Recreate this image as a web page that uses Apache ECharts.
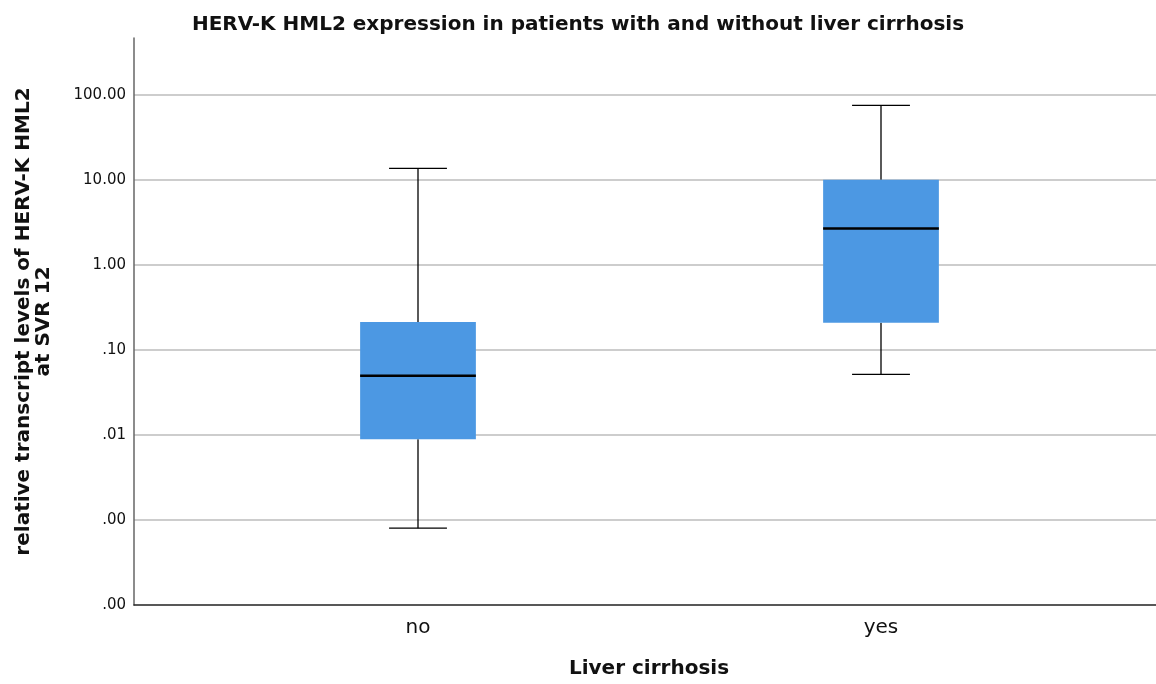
<!DOCTYPE html>
<html>
<head>
<meta charset="utf-8">
<script src="https://cdn.jsdelivr.net/npm/echarts@6/dist/echarts.min.js"></script>
<style>html,body{margin:0;padding:0;background:#fff;}#c{width:1156px;height:684px;}</style>
</head>
<body>
<div id="c"></div>
<script>
// Categories and box statistics (relative transcript levels, original scale)
const categories = ['no', 'yes'];
const whiskerLow  = [0.0008, 0.0514];
const q1          = [0.0089, 0.2086];
const median      = [0.0497, 2.68];
const q3          = [0.2127, 10.0];
const whiskerHigh = [13.6, 75];
// Y axis extent (log10 exponents)
const yMinExp = -4;
const yMaxExp = 2.667;

const L = Math.log10;
const boxData = categories.map((c, i) => [i, L(whiskerLow[i]), L(q1[i]), L(median[i]), L(q3[i]), L(whiskerHigh[i])]);

function fmtTick(v) {
  const val = Math.pow(10, v);
  let s = val.toFixed(2);
  if (s.startsWith('0.')) s = s.slice(1);
  return s;
}

const font = 'DejaVu Sans';
const chart = echarts.init(document.getElementById('c'), null, {renderer: 'canvas'});
chart.setOption({
  animation: false,
  backgroundColor: '#fff',
  title: {
    text: 'HERV-K HML2 expression in patients with and without liver cirrhosis',
    left: 'center', top: 10,
    textStyle: {fontFamily: font, fontWeight: 'bold', fontSize: 20, color: '#111'}
  },
  grid: {left: 134, right: 0, top: 38, bottom: 76, containLabel: false},
  xAxis: {
    type: 'value',
    min: (134 - 418) / 463,
    max: (1156 - 418) / 463,
    name: 'Liver cirrhosis',
    nameLocation: 'middle',
    nameGap: 54,
    nameTextStyle: {fontFamily: font, fontWeight: 'bold', fontSize: 20, color: '#111', padding: [0, 0, 0, 8]},
    axisLine: {show: true, onZero: false, lineStyle: {color: '#222', width: 1.5}},
    axisTick: {show: false},
    splitLine: {show: false},
    axisLabel: {
      customValues: [0, 1],
      formatter: v => categories[Math.round(v)] || '',
      fontFamily: font, fontSize: 20, color: '#111', margin: 13
    }
  },
  yAxis: {
    type: 'value',
    min: yMinExp,
    max: yMaxExp,
    interval: 1,
    name: 'relative transcript levels of HERV-K HML2\nat SVR 12',
    nameLocation: 'middle',
    nameGap: 80,
    nameTextStyle: {fontFamily: font, fontWeight: 'bold', fontSize: 20, color: '#111', lineHeight: 20},
    axisLine: {show: true, onZero: false, lineStyle: {color: '#666', width: 1.5}},
    axisTick: {show: false},
    axisLabel: {
      formatter: fmtTick,
      showMaxLabel: false,
      fontFamily: font, fontSize: 15, color: '#111', margin: 8
    },
    splitLine: {show: true, showMinLine: false, showMaxLine: false, lineStyle: {color: '#bdbdbd', width: 1.5}}
  },
  series: [{
    type: 'custom',
    data: boxData,
    clip: false,
    renderItem: function (params, api) {
      const x = api.value(0);
      const unit = api.size([1, 0])[0];
      const halfBox = unit * 0.125;
      const halfCap = unit * 0.0625;
      const p = k => api.coord([x, api.value(k)]);
      const lo = p(1), b1 = p(2), md = p(3), b3 = p(4), hi = p(5);
      const cx = lo[0];
      const black = {stroke: '#000', lineWidth: 1.3};
      return {
        type: 'group',
        children: [
          {type: 'line', shape: {x1: cx, y1: hi[1], x2: cx, y2: b3[1]}, style: black},
          {type: 'line', shape: {x1: cx, y1: b1[1], x2: cx, y2: lo[1]}, style: black},
          {type: 'line', shape: {x1: cx - halfCap, y1: hi[1], x2: cx + halfCap, y2: hi[1]}, style: black},
          {type: 'line', shape: {x1: cx - halfCap, y1: lo[1], x2: cx + halfCap, y2: lo[1]}, style: black},
          {type: 'rect', shape: {x: cx - halfBox, y: b3[1], width: halfBox * 2, height: b1[1] - b3[1]}, style: {fill: '#4c98e3'}},
          {type: 'line', shape: {x1: cx - halfBox, y1: md[1], x2: cx + halfBox, y2: md[1]}, style: {stroke: '#000', lineWidth: 2.5}}
        ]
      };
    }
  }]
});
</script>
</body>
</html>
